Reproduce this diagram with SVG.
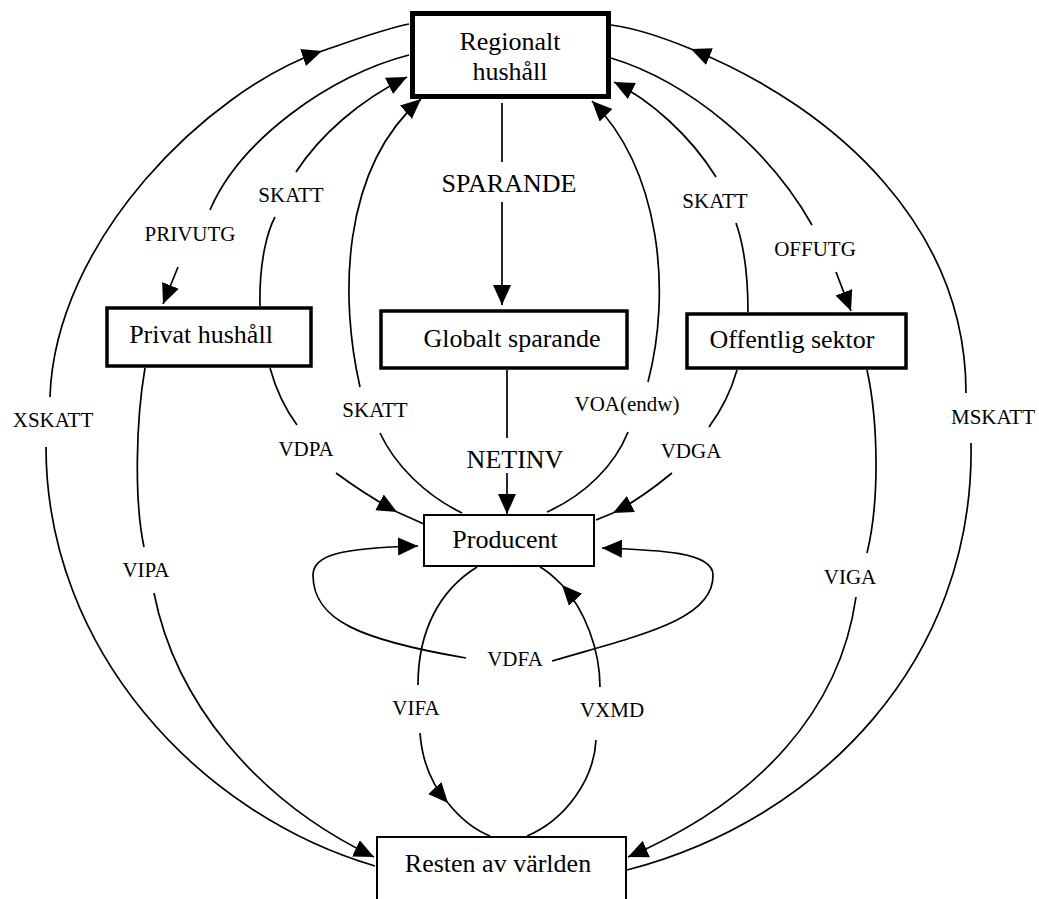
<svg xmlns="http://www.w3.org/2000/svg" width="1039" height="899" viewBox="0 0 1039 899">
<style>
.box{fill:#fff;stroke:#000}
.t{font-family:"Liberation Serif","Times New Roman",serif;font-size:26px;text-anchor:middle;fill:#000}
.l{font-family:"Liberation Serif","Times New Roman",serif;font-size:21px;text-anchor:middle;fill:#000}
.c{fill:none;stroke:#000;stroke-width:1.7}
.a{marker-end:url(#ah)}
</style>
<defs>
<marker id="ah" markerUnits="userSpaceOnUse" markerWidth="22" markerHeight="20" refX="20" refY="9" orient="auto">
<path d="M0,0 L20,9 L0,18 Z" fill="#000"/>
</marker>
</defs>
<rect width="1039" height="899" fill="#fff"/>
<g id="connectors">
<!-- SPARANDE -->
<path class="c" d="M502,103 L502,162"/>
<path class="c a" d="M502,202 L502,305"/>
<text class="t" x="509" y="192">SPARANDE</text>
<!-- NETINV -->
<path class="c" d="M507,370 L507,438"/>
<path class="c a" d="M507,473 L507,514"/>
<text class="t" x="515" y="468">NETINV</text>
<!-- XSKATT -->
<path class="c" d="M375,866 C200,815 46,650 46,447"/>
<path class="c a" d="M50,397 C55,240 208,90 322,51"/>
<path class="c" d="M322,51 C346,43 380,30 409,24"/>
<text class="l" x="53" y="427">XSKATT</text>
<!-- PRIVUTG -->
<path class="c" d="M409,55 C330,75 240,140 210,210"/>
<path class="c a" d="M178,267 L163,304"/>
<text class="l" x="190" y="241">PRIVUTG</text>
<!-- SKATT private -->
<path class="c" d="M260,306 C259,260 268,230 275,217"/>
<path class="c a" d="M296,172 C320,135 360,100 407,77"/>
<text class="l" x="291" y="202">SKATT</text>
<!-- SKATT producer -->
<path class="c" d="M380,433 C395,465 425,495 462,513"/>
<path class="c a" d="M360,387 C340,300 340,170 421,99"/>
<text class="l" x="375" y="417">SKATT</text>
<!-- VOA(endw) -->
<path class="c" d="M628,432 C615,465 585,495 547,512"/>
<path class="c a" d="M648,382 C672,290 660,170 592,101"/>
<text class="l" x="627" y="411">VOA(endw)</text>
<!-- SKATT public -->
<path class="c" d="M748,312 C748,270 742,240 736,223"/>
<path class="c a" d="M716,177 C690,135 650,100 614,82"/>
<text class="l" x="715" y="208">SKATT</text>
<!-- OFFUTG -->
<path class="c" d="M611,58 C690,82 770,150 812,225"/>
<path class="c a" d="M836,272 L851,311"/>
<text class="l" x="815" y="256">OFFUTG</text>
<!-- MSKATT -->
<path class="c" d="M627,870 C820,820 975,660 971,443"/>
<path class="c a" d="M966,393 C966,230 840,110 691,49"/>
<path class="c" d="M691,49 C668,39.5 635,28 611,25"/>
<text class="l" x="993" y="424">MSKATT</text>
<!-- VIGA -->
<path class="c" d="M867,370 C878,420 880,500 867,553"/>
<path class="c a" d="M856,597 C840,710 760,800 628,857"/>
<text class="l" x="850" y="584">VIGA</text>
<!-- VDGA -->
<path class="c" d="M737,370 C730,395 720,412 709,427"/>
<path class="c a" d="M672,473 C655,487 635,502 613,513"/>
<path class="c" d="M613,513 L596,520"/>
<text class="l" x="691" y="458">VDGA</text>
<!-- VDPA -->
<path class="c" d="M270,368 C276,390 286,410 297,425"/>
<path class="c a" d="M336,473 C355,487 375,500 397,512"/>
<path class="c" d="M397,512 L424,524"/>
<text class="l" x="306" y="456">VDPA</text>
<!-- VIPA -->
<path class="c" d="M145,368 C136,420 134,500 144,547"/>
<path class="c a" d="M154,593 C175,700 255,800 374,857"/>
<text class="l" x="146" y="577">VIPA</text>
<!-- VDFA -->
<path class="c a" d="M466,658 C360,640 313,620 313,575 C313,555 340,548 418,546"/>
<path class="c a" d="M552,661 C640,635 714,620 713,575 C713,552 660,550 602,548"/>
<text class="l" x="515" y="666">VDFA</text>
<!-- VIFA -->
<path class="c" d="M477,567 C440,590 418,630 418,685"/>
<path class="c a" d="M420,733 C422,760 432,785 448,803"/>
<path class="c" d="M448,803 C460,818 475,830 490,836"/>
<text class="l" x="416" y="715">VIFA</text>
<!-- VXMD -->
<path class="c" d="M527,836 C565,820 594,780 596,740"/>
<path class="c a" d="M600,687 C600,650 585,610 562,585"/>
<path class="c" d="M562,585 C555,578 548,571 540,567"/>
<text class="l" x="612" y="717">VXMD</text>
</g>
<g id="regionalt">
<rect class="box" x="412.5" y="13.5" width="196" height="83" stroke-width="5"/>
<text class="t" x="510" y="50">Regionalt</text>
<text class="t" x="510" y="80">hushåll</text>
</g>
<g id="privat">
<rect class="box" x="107" y="308" width="204" height="58" stroke-width="3.5"/>
<text class="t" x="201" y="343">Privat hushåll</text>
</g>
<g id="globalt">
<rect class="box" x="381" y="311" width="246" height="57" stroke-width="3.5"/>
<text class="t" x="512" y="347">Globalt sparande</text>
</g>
<g id="offentlig">
<rect class="box" x="687" y="314" width="219" height="54" stroke-width="3.5"/>
<text class="t" x="792" y="348">Offentlig sektor</text>
</g>
<g id="producent">
<rect class="box" x="424" y="515" width="170" height="51" stroke-width="2"/>
<text class="t" x="505" y="548">Producent</text>
</g>
<g id="resten">
<rect class="box" x="377" y="837" width="249" height="80" stroke-width="2"/>
<text class="t" x="498" y="872">Resten av världen</text>
</g>
</svg>
